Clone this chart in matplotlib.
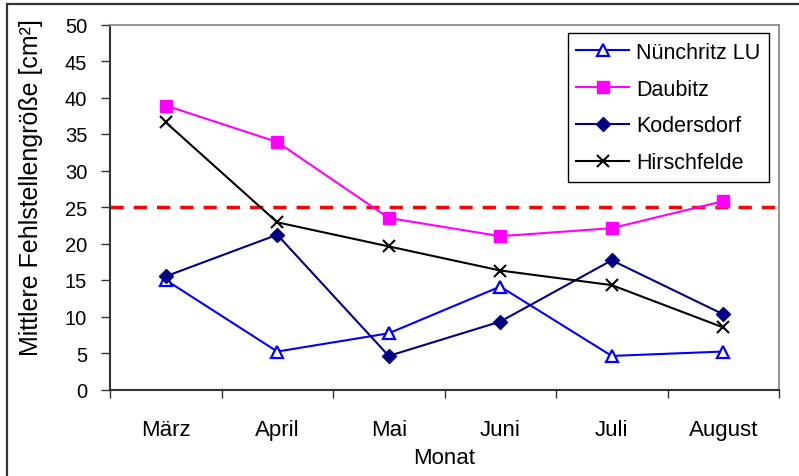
import matplotlib
matplotlib.use("Agg")
import matplotlib.pyplot as plt
from matplotlib.patches import Rectangle

plt.rcParams['font.family'] = ['Liberation Sans', 'DejaVu Sans']

months = ["März", "April", "Mai", "Juni", "Juli", "August"]
nuenchritz = [15.0, 5.2, 7.7, 14.1, 4.6, 5.2]
daubitz = [38.9, 33.9, 23.5, 21.0, 22.1, 25.8]
kodersdorf = [15.5, 21.2, 4.6, 9.3, 17.7, 10.3]
hirschfelde = [36.6, 22.9, 19.6, 16.3, 14.3, 8.5]
threshold = 25
yticks = list(range(0, 55, 5))

W, H = 799, 477
fig = plt.figure(figsize=(W / 100, H / 100), dpi=100)
fig.patch.set_facecolor("white")

# chart area border (left and top visible)
fig.add_artist(Rectangle((7 / W, -0.1), 1.2, (H - 5) / H + 0.1, transform=fig.transFigure,
                         fill=False, edgecolor="#333333", linewidth=1.6))

y_top, y_bot = 25.5, 390.5
ax = fig.add_axes([110 / W, (H - y_bot) / H, (779 - 110) / W, (y_bot - y_top) / H])
x = list(range(len(months)))

ax.axhline(threshold, color="#ff0000", linestyle=(0, (3.8, 2.9)), linewidth=2.5, zorder=1)

ax.plot(x, nuenchritz, color="#0000ff", lw=1.5, marker="^", markersize=9,
        markerfacecolor="white", markeredgecolor="#0000ff", markeredgewidth=1.6,
        label="Nünchritz LU", zorder=3)
ax.plot(x, daubitz, color="#ff00ff", lw=1.5, marker="s", markersize=8,
        markerfacecolor="#ff00ff", markeredgecolor="#ff00ff", label="Daubitz", zorder=3)
ax.plot(x, kodersdorf, color="#000080", lw=1.5, marker="D", markersize=7,
        markerfacecolor="#000080", markeredgecolor="#000080", label="Kodersdorf", zorder=3)
ax.plot(x, hirschfelde, color="black", lw=1.5, marker="x", markersize=9,
        markeredgewidth=1.5, label="Hirschfelde", zorder=3)

ax.set_xlim(-0.5, len(months) - 0.5)
ax.set_ylim(0, 50)
ax.set_yticks(yticks)
ax.tick_params(axis="y", length=6.5, width=1, color="#333333", labelsize=14.5, pad=10)

ax.set_xticks(x)
ax.set_xticklabels(months)
ax.tick_params(axis="x", which="major", length=0, labelsize=16, pad=21)
ax.set_xticks([i - 0.5 for i in range(len(months) + 1)], minor=True)
ax.tick_params(axis="x", which="minor", length=5.4, width=1, color="#333333")

for s in ["left", "bottom"]:
    ax.spines[s].set_color("#333333")
    ax.spines[s].set_linewidth(1.5)
for s in ["top", "right"]:
    ax.spines[s].set_color("#8c8c8c")
    ax.spines[s].set_linewidth(1.3)

ax.set_xlabel("Monat", fontsize=16, labelpad=5)
fig.text(31 / W, 1 - 188 / H, "Mittlere Fehlstellengröße [cm²]", fontsize=18,
         rotation=90, ha="center", va="center")

leg = ax.legend(loc="upper right",
                bbox_to_anchor=((769 - 110) / (779 - 110), (y_bot - 34) / (y_bot - y_top)),
                fontsize=15.5, frameon=True, fancybox=False, framealpha=1,
                edgecolor="black", borderpad=0.4, labelspacing=0.74, handlelength=2.45,
                handletextpad=0.33, borderaxespad=0)
leg.get_frame().set_linewidth(1.0)

fig.savefig("out.png", dpi=100, facecolor="white")
